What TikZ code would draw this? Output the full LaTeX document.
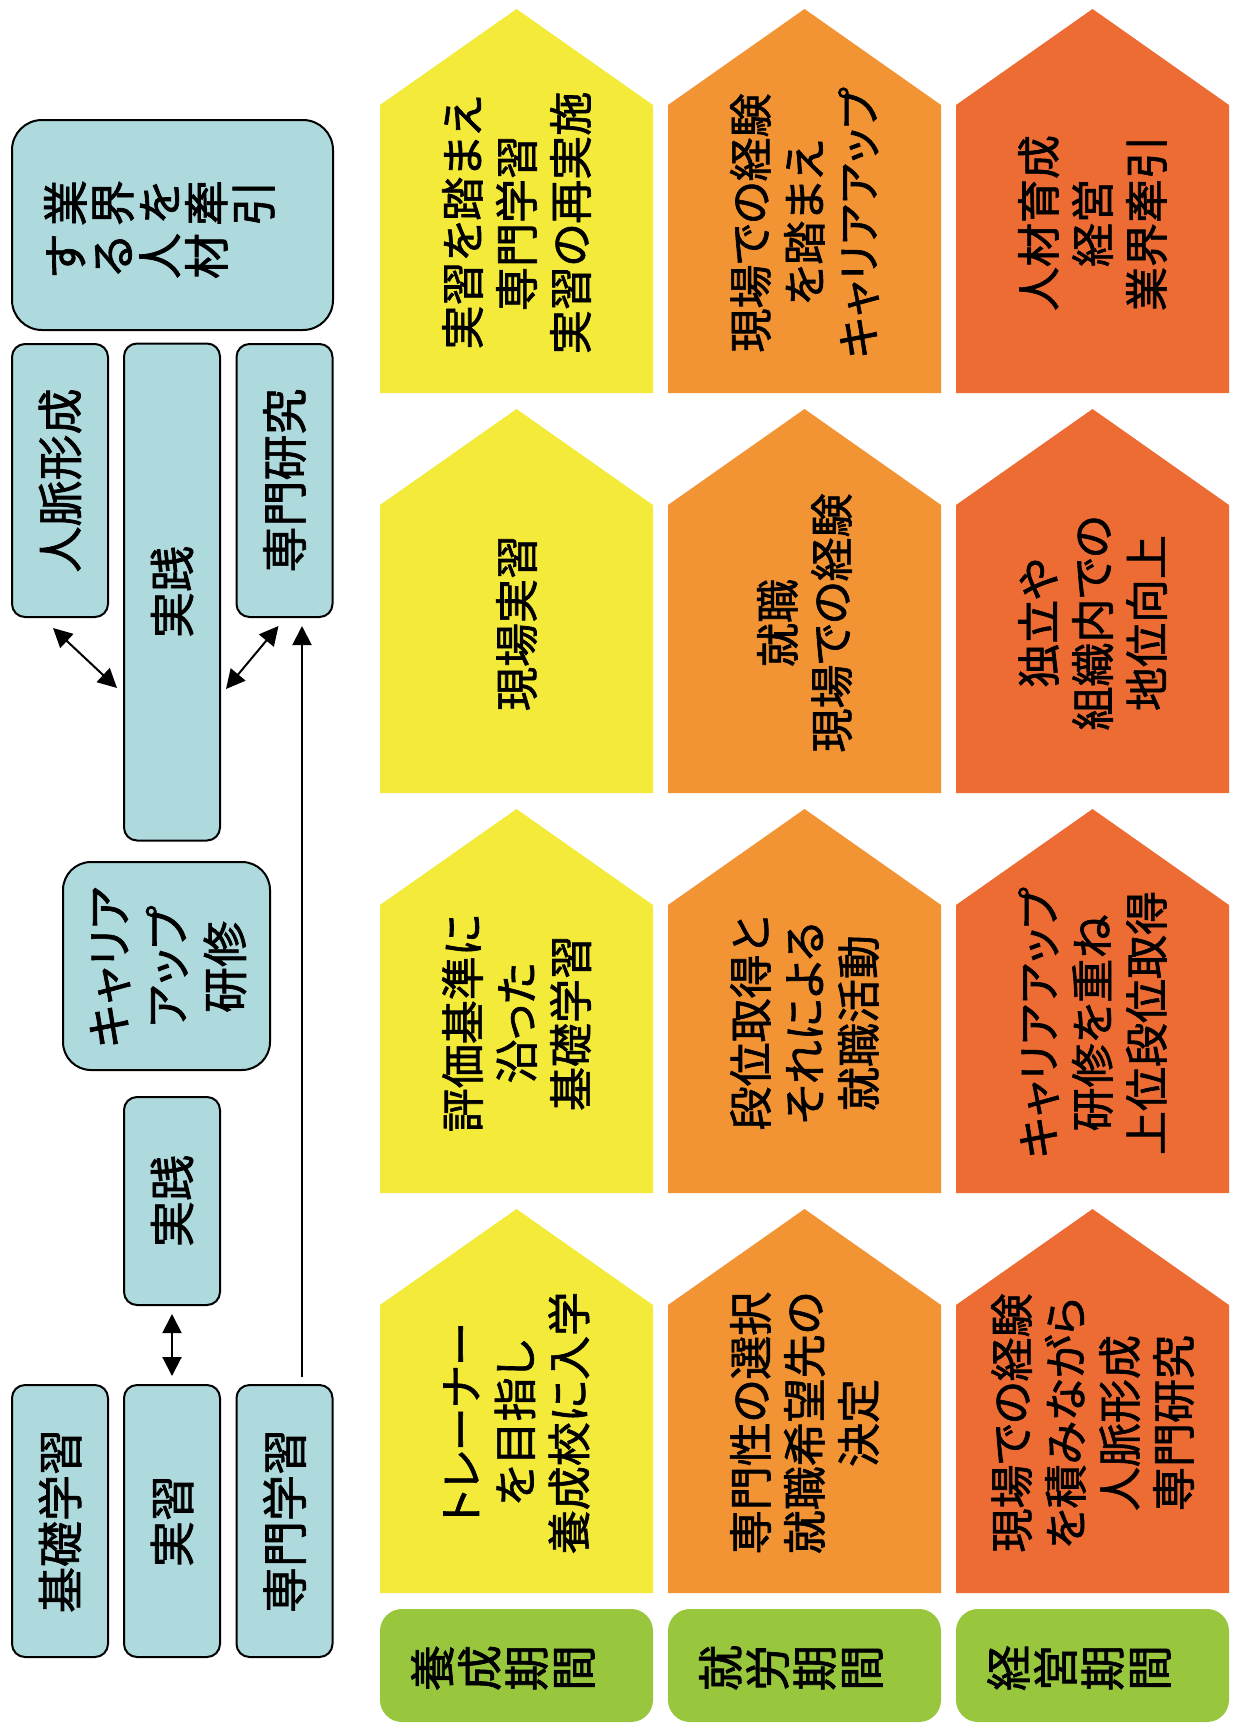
\documentclass[tikz,border=0pt]{standalone}
\usepackage{fontspec}
\setmainfont{Noto Sans CJK JP}[RawFeature=+palt, FakeBold=1.5]
\usetikzlibrary{arrows.meta}
\definecolor{cyel}{RGB}{243,234,58}
\definecolor{corg}{RGB}{242,147,52}
\definecolor{cred}{RGB}{236,108,52}
\definecolor{cgrn}{RGB}{152,199,62}
\definecolor{cblu}{RGB}{174,218,222}
\newcommand\housepath[3]{\fill[#1] (#2,#3+96) -- (#2+136.5,#3) -- (#2+273,#3+96) -- (#2+273,#3+384) -- (#2,#3+384) -- cycle;}
\begin{document}
\begin{tikzpicture}[x=1pt,y=-1pt,
  bluebox/.style={draw=black, line width=2pt, fill=cblu, inner sep=0pt},
  narrowbox/.style={bluebox, rounded corners=13pt, minimum width=96pt},
  bigtext/.style={rotate=90, align=center, inner sep=0pt, font=\fontsize{46}{58}\selectfont},
  htext/.style={rotate=90, align=center, inner sep=0pt, font=\fontsize{44}{54}\selectfont},
  charnode/.style={rotate=90, inner sep=0pt, text height=0.88em, text depth=0.12em, font=\fontsize{46}{53}\selectfont},
  greenbox/.style={fill=cgrn, rounded corners=22pt, minimum width=273pt, minimum height=113pt, inner sep=0pt},
  tip/.tip={Triangle[length=19pt,width=19pt]},
  link/.style={line width=2pt, -tip},
  dlink/.style={line width=2pt, tip-tip}
]
\useasboundingbox (0,0) rectangle (1234,1724);

% ---------- left column ----------
\node[bluebox, rounded corners=30pt, minimum width=321pt, minimum height=210pt] (top) at (172.5,225) {};
\foreach \c [count=\i] in {業,界,を,牽,引}
  \node[charnode] (ta\i) at ({79+(\i-1)*47}, 203) {\c};
\foreach \c [count=\i] in {す,る,人,材}
  \node[charnode] (tb\i) at ({79+(\i-1)*47}, 256) {\c};

\node[narrowbox, minimum height=273pt] (jin) at (60,480.5) {};
\node[bigtext] (jint) at (jin) {人脈形成};
\node[narrowbox, minimum height=497pt] (jt) at (172,592) {};
\node[bigtext] (jtt) at (jt) {実践};
\node[narrowbox, minimum height=273pt] (sk) at (284.5,480.5) {};
\node[bigtext] (skt) at (sk) {専門研究};

\node[bluebox, rounded corners=28pt, minimum width=207pt, minimum height=208pt] (ca) at (166.5,966) {};
\node[bigtext] (cat) at (168,967) {キャリア\\アップ\\研修};

\node[narrowbox, minimum height=208pt] (js) at (172,1201) {};
\node[bigtext] (jst) at (js) {実践};

\node[narrowbox, minimum height=272pt] (kg) at (60,1521) {};
\node[bigtext] (kgt) at (kg) {基礎学習};
\node[narrowbox, minimum height=272pt] (jsh) at (172,1521) {};
\node[bigtext] (jsht) at (jsh) {実習};
\node[narrowbox, minimum height=272pt] (sg) at (284.5,1521) {};
\node[bigtext] (sgt) at (sg) {専門学習};

% connectors
\draw[dlink] ([shift={(-7,10)}]jin.south) -- ([shift={(-6,96)}]jt.west);
\draw[dlink] ([shift={(-6,8)}]sk.south) -- ([shift={(5,97)}]jt.east);
\draw[link] ([shift={(17.5,-7)}]sg.north) -- ([shift={(17.5,8)}]sk.south);
\draw[dlink] ([shift={(0,8)}]js.south) -- ([shift={(0,-8)}]jsh.north);

% ---------- houses ----------
\foreach \py in {9,409,809,1209}{
  \housepath{cyel}{380}{\py}
  \housepath{corg}{668}{\py}
  \housepath{cred}{956}{\py}
}
\node[htext] (h11) at (516.5,223) {実習を踏まえ\\専門学習\\実習の再実施};
\node[htext] (h12) at (804.5,223) {現場での経験\\を踏まえ\\キャリアアップ};
\node[htext] (h13) at (1092.5,223) {人材育成\\経営\\業界牽引};

\node[htext] (h21) at (516.5,623) {現場実習};
\node[htext] (h22) at (804.5,623) {就職\\現場での経験};
\node[htext] (h23) at (1092.5,623) {独立や\\組織内での\\地位向上};

\node[htext] (h31) at (516.5,1023) {評価基準に\\沿った\\基礎学習};
\node[htext] (h32) at (804.5,1023) {段位取得と\\それによる\\就職活動};
\node[htext] (h33) at (1092.5,1023) {キャリアアップ\\研修を重ね\\上位段位取得};

\node[htext] (h41) at (516.5,1423) {トレーナー\\を目指し\\養成校に入学};
\node[htext] (h42) at (804.5,1423) {専門性の選択\\就職希望先の\\決定};
\node[htext] (h43) at (1092.5,1423) {現場での経験\\を積みながら\\人脈形成\\専門研究};

% ---------- period labels ----------
\foreach \col/\x/\chars in {1/516.5/{養,成,期,間}, 2/804.5/{就,労,期,間}, 3/1092.5/{経,営,期,間}}{
  \node[greenbox] (g\col) at (\x,1665.5) {};
  \foreach \c [count=\i] in \chars
    \node[charnode] (g\col c\i) at ({\x+(\i-2.5)*47}, 1668) {\c};
}
\end{tikzpicture}
\end{document}
